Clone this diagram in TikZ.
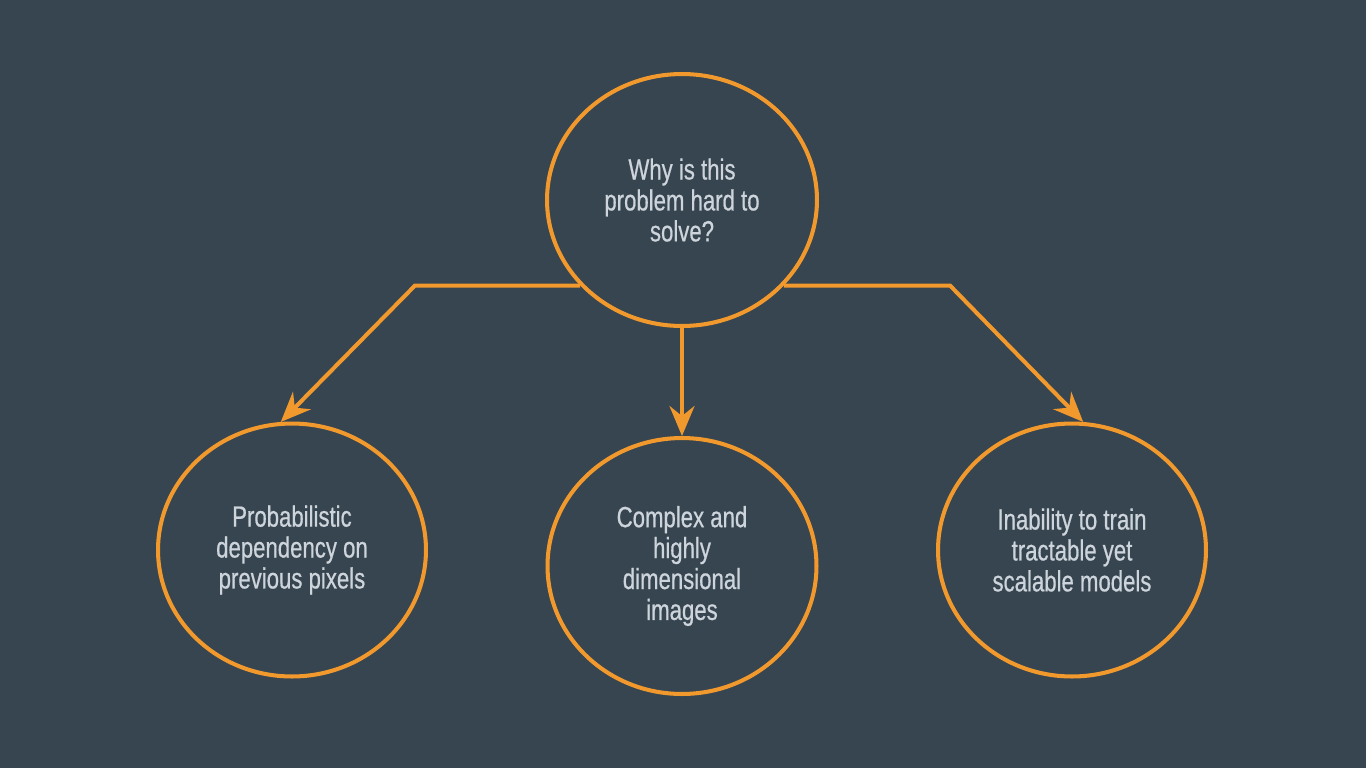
\documentclass[tikz,border=0pt]{standalone}
\usepackage{fontspec}
\setmainfont{Liberation Sans}[FakeStretch=0.76, FakeBold=0.6]
\usepackage{tikz}
\usetikzlibrary{shapes.geometric, arrows.meta, positioning}
\definecolor{slatebg}{RGB}{54,69,79}
\definecolor{qorange}{RGB}{242,153,46}
\definecolor{qtext}{RGB}{206,212,220}
\tikzset{
    qbubble/.style={ellipse, draw=qorange, fill=slatebg, line width=2.3pt, minimum width=#1, align=center, text=qtext, font=\fontsize{16.6}{17.6}\selectfont, inner sep=0pt},
    qbubble/.default=5.36cm,
    qarrow/.style={-{Stealth[length=0.6cm, width=0.5cm, inset=0.2cm]}, qorange, line width=2.3pt}
}

\begin{document}
\begin{tikzpicture}[x=0.02cm, y=-0.02cm]

\fill[slatebg] (0,0) rectangle (1366,768);
\useasboundingbox (0,0) rectangle (1366,768);

\node[qbubble=5.4cm, minimum height=5.04cm] (why) at (682,200) {Why is this\\problem hard to\\solve?};
\node[qbubble, minimum height=5.06cm] (prob) at (292,550) {Probabilistic\\dependency on\\previous pixels};
\node[qbubble=5.38cm, minimum height=5.12cm] (dims) at (682,566) {Complex and\\highly\\dimensional\\images};
\node[qbubble, minimum height=5.06cm] (train) at (1072,550) {Inability to train\\tractable yet\\scalable models};

\coordinate (lbend) at (415,285);
\coordinate (rbend) at (950,285);

\draw[qarrow] (why.220) -- (why.220 -| lbend) -- (prob.95);
\draw[qarrow] (why.south) -- (dims.north);
\draw[qarrow] (why.320) -- (why.320 -| rbend) -- (train.85);

\end{tikzpicture}
\end{document}
